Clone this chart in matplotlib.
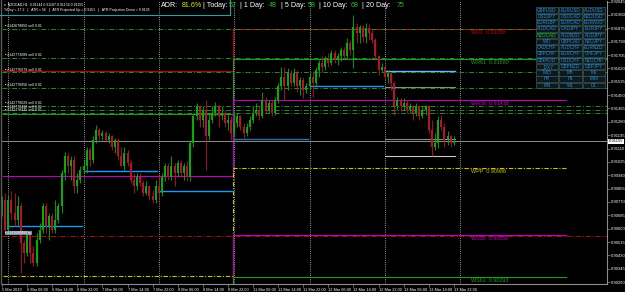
import matplotlib
matplotlib.use("Agg")
import matplotlib.pyplot as plt
import matplotlib.transforms as mtrans
from matplotlib.patches import Rectangle
from matplotlib.lines import Line2D
import pandas as pd

plt.rcParams['font.family'] = ['Liberation Sans', 'DejaVu Sans']

# ---------------- data ----------------
symbol = "NZDCAD,H1"
first_open = 0.90742
closes = [
    0.90784, 0.90593, 0.90784, 0.90699, 0.90657, 0.90742, 0.90508, 0.90445, 0.90572, 0.90445, 0.90381, 0.90530, 0.90593,
    0.90742, 0.90614, 0.90678, 0.90593, 0.90657, 0.90742, 0.90954, 0.91060, 0.90996, 0.91038, 0.90869, 0.90911, 0.90975,
    0.90996, 0.91102, 0.91038, 0.91166, 0.91229, 0.91187, 0.91208, 0.91166, 0.91187, 0.91123, 0.91166, 0.91060,
    0.90996, 0.91081, 0.91017, 0.90911, 0.90869, 0.90932, 0.90890, 0.90826, 0.90869, 0.90805, 0.90784, 0.90869,
    0.90826, 0.90932, 0.90996, 0.90932, 0.90996, 0.90954, 0.91017, 0.90954, 0.90996, 0.90932, 0.91144, 0.91314,
    0.91378, 0.91293, 0.91356, 0.91187, 0.91293, 0.91335, 0.91378, 0.91314, 0.91335, 0.91272, 0.91293, 0.91208,
    0.91272, 0.91314, 0.91250, 0.91208, 0.91250, 0.91293, 0.91335, 0.91356, 0.91314, 0.91420, 0.91356, 0.91399,
    0.91335, 0.91420, 0.91505, 0.91568, 0.91505, 0.91590, 0.91526, 0.91590, 0.91505, 0.91547, 0.91484, 0.91505,
    0.91568, 0.91526, 0.91611, 0.91653, 0.91632, 0.91674, 0.91653, 0.91717, 0.91674, 0.91696, 0.91738, 0.91696,
    0.91780, 0.91738, 0.91886, 0.91844, 0.91886, 0.91823, 0.91876, 0.91844, 0.91802, 0.91696, 0.91611, 0.91632,
    0.91568, 0.91590, 0.91526, 0.91378, 0.91420, 0.91378, 0.91399, 0.91356, 0.91378, 0.91335, 0.91378, 0.91314,
    0.91356, 0.91378, 0.91229, 0.91123, 0.91144, 0.91293, 0.91250, 0.91166, 0.91187, 0.91144, 0.91155,
]
highs = [
    0.90805, 0.90826, 0.90816, 0.90837, 0.90826, 0.90805, 0.90763, 0.90530, 0.90593, 0.90593, 0.90487, 0.90572, 0.90636,
    0.90763, 0.90763, 0.90699, 0.90699, 0.90784, 0.90763, 0.90975, 0.91091, 0.91081, 0.91060, 0.91060, 0.90954, 0.90996,
    0.91038, 0.91123, 0.91123, 0.91187, 0.91261, 0.91240, 0.91229, 0.91219, 0.91208, 0.91197, 0.91176, 0.91176,
    0.91123, 0.91123, 0.91102, 0.91038, 0.90954, 0.90954, 0.90954, 0.90911, 0.90901, 0.90880, 0.90848, 0.90911,
    0.90954, 0.90954, 0.91017, 0.91017, 0.91060, 0.91017, 0.91038, 0.91038, 0.91017, 0.91028, 0.91166, 0.91335,
    0.91399, 0.91388, 0.91378, 0.91420, 0.91335, 0.91378, 0.91409, 0.91388, 0.91378, 0.91356, 0.91335, 0.91314,
    0.91335, 0.91335, 0.91325, 0.91272, 0.91272, 0.91314, 0.91378, 0.91399, 0.91378, 0.91473, 0.91441, 0.91420,
    0.91420, 0.91441, 0.91526, 0.91632, 0.91632, 0.91621, 0.91611, 0.91621, 0.91611, 0.91568, 0.91568, 0.91526,
    0.91590, 0.91600, 0.91632, 0.91674, 0.91696, 0.91696, 0.91717, 0.91738, 0.91738, 0.91717, 0.91759, 0.91759,
    0.91812, 0.91802, 0.91961, 0.91908, 0.91897, 0.91897, 0.91908, 0.91903, 0.91865, 0.91812, 0.91706, 0.91653,
    0.91643, 0.91611, 0.91600, 0.91537, 0.91441, 0.91431, 0.91431, 0.91420, 0.91399, 0.91388, 0.91399, 0.91388,
    0.91378, 0.91388, 0.91388, 0.91293, 0.91208, 0.91314, 0.91325, 0.91272, 0.91219, 0.91197, 0.91187,
]
lows = [
    0.90678, 0.90572, 0.90572, 0.90657, 0.90614, 0.90614, 0.90318, 0.90381, 0.90424, 0.90381, 0.90360, 0.90360, 0.90508,
    0.90572, 0.90572, 0.90530, 0.90572, 0.90572, 0.90636, 0.90699, 0.90911, 0.90954, 0.90911, 0.90826, 0.90826, 0.90890,
    0.90954, 0.90954, 0.90996, 0.91017, 0.91144, 0.91166, 0.91166, 0.91155, 0.91144, 0.91102, 0.91081, 0.91038,
    0.90996, 0.90975, 0.90996, 0.90890, 0.90826, 0.90848, 0.90869, 0.90805, 0.90816, 0.90784, 0.90763, 0.90763,
    0.90784, 0.90805, 0.90901, 0.90911, 0.90911, 0.90869, 0.90932, 0.90932, 0.90911, 0.90901, 0.90901, 0.91123,
    0.91293, 0.91250, 0.91250, 0.90975, 0.91166, 0.91272, 0.91314, 0.91250, 0.91293, 0.91250, 0.91229, 0.91166,
    0.91187, 0.91250, 0.91229, 0.91176, 0.91187, 0.91229, 0.91272, 0.91314, 0.91293, 0.91303, 0.91335, 0.91335,
    0.91314, 0.91325, 0.91399, 0.91484, 0.91420, 0.91484, 0.91505, 0.91505, 0.91473, 0.91452, 0.91431, 0.91462,
    0.91484, 0.91441, 0.91505, 0.91568, 0.91600, 0.91611, 0.91632, 0.91643, 0.91653, 0.91643, 0.91664, 0.91674,
    0.91685, 0.91706, 0.91621, 0.91780, 0.91780, 0.91791, 0.91780, 0.91802, 0.91780, 0.91674, 0.91579, 0.91600,
    0.91547, 0.91526, 0.91484, 0.91325, 0.91356, 0.91346, 0.91356, 0.91335, 0.91335, 0.91293, 0.91314, 0.91293,
    0.91303, 0.91325, 0.91208, 0.91060, 0.91102, 0.91113, 0.91229, 0.91123, 0.91134, 0.91123, 0.91134,
]

times = list(pd.date_range("2019-03-05 22:00", "2019-03-08 23:00", freq="h")) + \
        list(pd.date_range("2019-03-11 00:00", "2019-03-13 22:00", freq="h"))

price_ticks = [0.92045, 0.91960, 0.91875, 0.91790, 0.91705, 0.91620, 0.91535, 0.91450, 0.91365, 0.91280, 0.91195,
               0.91110, 0.91025, 0.90940, 0.90855, 0.90770, 0.90685, 0.90600, 0.90515, 0.90430, 0.90345, 0.90260]

pivot_names = ["WR1", "WR61", "WR38", "WPP", "WS38", "WS61"]
pivot_this = [0.91868, 0.91680, 0.91418, 0.90986, 0.90558, 0.90293]
pivot_prev = [0.91606, 0.91330, 0.90935, 0.90299, 0.90150, 0.90050]
pivot_colors = ['#c00000', '#1f9c1f', '#c000c0', '#c8c800', '#c000c0', '#1f9c1f']
pivot_styles = ['-', '-', '-', (0, (4, 1.5, 1, 1.5)), '-', '-']
pivot_full = [True, True, False, False, False, False]

order_ids = ["#142678850", "#142773089", "#142776079", "#142776856", "#142778029", "#142778418", "#142778435"]
order_prices = [0.91869, 0.91685, 0.91595, 0.91494, 0.91381, 0.91355, 0.91338]
tp_label = "#142688889 tp"
tp_price = 0.90555

day_dates = ["2019-03-06", "2019-03-07", "2019-03-08", "2019-03-11", "2019-03-12", "2019-03-13"]
day_line_prices = [0.90615, 0.90965, 0.90838, 0.91173, 0.91506, 0.91606]
day_line_colors = ['#2196f3', '#2196f3', '#2196f3', '#2a6fb0', '#2196f3', '#6ab8ff']
extra_today_prices = [0.91500, 0.91173, 0.91061]
extra_today_colors = ['#8a8a8a', '#8a8a8a', '#c8c8c8']

adr_parts = [("ADR:", '#ffffff'), ("81.6%", '#e6e600'), ("| Today:", '#ffffff'), ("57", '#22c022'),
             ("| 1 Day:", '#ffffff'), ("48", '#22c022'), ("| 5 Day:", '#ffffff'), ("58", '#22c022'),
             ("| 10 Day:", '#ffffff'), ("68", '#22c022'), ("|", '#ffffff'), ("20 Day:", '#ffffff'), ("75", '#22c022')]
adr_x_px = [161, 182, 203, 229, 240, 269, 281, 308, 319, 351, 361, 366, 397]

info_line = "TrDay = 17.2   |   ATR = 56   |   ATR Projected Up = 0.9161   |   ATR Projection Down = 0.9105"

table_labels = [
    ["GBPUSD", "EURUSD", "AUDUSD"],
    ["USDJPY", "USDCAD", "NZDUSD"],
    ["EURGBP", "EURCAD", "EURAUD"],
    ["AUDCAD", "CADJPY", "EURJPY"],
    ["NZDCAD", "AUDNZD", "AUDJPY"],
    ["WTI", "GBPCAD", "NZDJPY"],
    ["CADCHF", "AUDCHF", "EURNZD"],
    ["GBPCHF", "EURCHF", "CHFJPY"],
    ["GBPAUD", "USDCHF", "NZDCHF"],
    ["_DXY", "GBPNZD", "GBPJPY"],
    ["M15", "M5", "M1"],
    ["H4", "H1", "M30"],
    ["MN", "W1", "D1"],
]

# ---------------- figure ----------------
W, H = 625, 292
fig = plt.figure(figsize=(W / 100, H / 100), dpi=100, facecolor='black')
L, R, T, B = 2, 607, 1, 284
ax = fig.add_axes([L / W, 1 - B / H, (R - L) / W, (B - T) / H], facecolor='black')


def fxy(px, py):
    return px / W, 1 - py / H


n = len(closes)
opens = [first_open] + closes[:-1]
bull, bear = '#00b400', '#c0102a'
for i in range(n):
    o, c, h, l = opens[i], closes[i], highs[i], lows[i]
    col = bull if c >= o else bear
    ax.vlines(i, l, h, color=col, lw=0.6, zorder=5)
    ax.vlines(i, min(o, c), max(o, c) + 1e-6, color=col, lw=1.4, zorder=5)

xmin, xmax = 0.16, 192.8
ax.set_xlim(xmin, xmax)
ax.set_ylim(0.90248, 0.92049)

# day separators
sep_idx = [i for i, t in enumerate(times) if t.hour == 0]
for i in sep_idx:
    ax.axvline(i, color='#c8c8c8', lw=0.6, ls=(0, (1, 1.6)), zorder=2)
ax.axvline(n + 1, color='#c8c8c8', lw=0.6, ls=(0, (1, 1.6)), zorder=2)

# week boundary
wk = next(i for i, t in enumerate(times) if t.day == 11) - 0.5
pend = 179.8
lab_off = mtrans.offset_copy(ax.transData, fig=fig, x=0, y=-3.5, units='dots')
for name, pv, pp, col, st, full in zip(pivot_names, pivot_this, pivot_prev, pivot_colors, pivot_styles, pivot_full):
    xe = xmax if full else pend
    ax.plot([xmin, wk, wk, xe], [pp, pp, pv, pv], color=col, lw=0.8, ls=st, zorder=3)
    ax.text(149.5, pv, f"{name}  {pv:.5f}", color=col, fontsize=3.9, va='center', ha='left',
            transform=lab_off, zorder=6)

# order levels
for oid, op in zip(order_ids, order_prices):
    ax.axhline(op, color='#2a8a2a', lw=0.7, ls=(0, (5, 2, 1, 2)), zorder=3)
    ax.text(1.0, op + 0.00005, "\u25aa " + oid + " sell 0.01", color='#ffffff', fontsize=2.6,
            va='bottom', ha='left', zorder=6)
ax.axhline(tp_price, color='#b01010', lw=0.7, ls=(0, (5, 2, 1, 2)), zorder=2.5)
ax.text(1.0, tp_price + 0.00005, "\u25aa " + tp_label, color='#ffffff', fontsize=2.6, va='bottom', ha='left',
        zorder=6, bbox=dict(boxstyle='square,pad=0.1', fc='#7a8aa0', ec='none'))

# day range lines
day_idx = {}
for i, t in enumerate(times):
    key = t.strftime("%Y-%m-%d")
    day_idx.setdefault(key, []).append(i)
for d, p, c in zip(day_dates, day_line_prices, day_line_colors):
    idx = day_idx[d]
    ax.plot([idx[0], idx[-1] + 0.5], [p, p], color=c, lw=1.0, zorder=4)
idx_today = day_idx[day_dates[-1]]
for p, c in zip(extra_today_prices, extra_today_colors):
    ax.plot([idx_today[0], idx_today[-1] + 0.5], [p, p], color=c, lw=0.8, zorder=4)

# current price
last = closes[-1]
ax.axhline(last, color='#8c8c8c', lw=0.7, zorder=4)
ax.text(1.003, last, f"{last:.5f}", transform=mtrans.blended_transform_factory(ax.transAxes, ax.transData),
        fontsize=3.0, color='black', va='center', ha='left', clip_on=False, zorder=10,
        bbox=dict(boxstyle='square,pad=0.15', fc='white', ec='none'))

# axes styling
for s in ['left', 'top']:
    ax.spines[s].set_visible(False)
for s in ['right', 'bottom']:
    ax.spines[s].set_color('#8c8c8c')
    ax.spines[s].set_linewidth(0.8)
ax.yaxis.tick_right()
ax.set_yticks(price_ticks)
ax.set_yticklabels([f"{p:.5f}" for p in price_ticks])
ax.tick_params(axis='y', colors='#8c8c8c', labelcolor='white', labelsize=3.0, length=2, width=0.5, pad=1)
xt = list(range(0, n, 8))
xl = ["5 Mar 2019" if i == 0 else f"{times[i].day} Mar {times[i]:%H:%M}" for i in xt]
ax.set_xticks(xt)
ax.set_xticklabels(xl, ha='left')
ax.tick_params(axis='x', colors='#8c8c8c', labelcolor='white', labelsize=2.8, length=2, width=0.5, pad=1)

# left border
fig.add_artist(Line2D([1 / W, 1 / W], [1 - B / H, 1], color='#5a5a5a', lw=1.0))

# header box
x0, y0 = fxy(0, 15)
x1, y1 = fxy(230, 0)
fig.add_artist(Line2D([x0, x1], [y0, y0], color='#2aa0a0', lw=0.8))
fig.add_artist(Line2D([x1, x1], [y0, y1], color='#2aa0a0', lw=0.8))
o, h, l, c = opens[-1], highs[-1], lows[-1], closes[-1]
fig.text(*fxy(4, 4.5), f"\u25be  {symbol}  {o:.5f} {h:.5f} {l:.5f} {c:.5f}", color='white', fontsize=2.5,
         va='center', ha='left')
fig.text(*fxy(4, 10), info_line, color='white', fontsize=2.5, va='center', ha='left')

for (txt, col), xp in zip(adr_parts, adr_x_px):
    fig.text(*fxy(xp, 5.5), txt, color=col, fontsize=5.1, va='center', ha='left')

# symbol table
cw, ch = 22.5, 6.26
cx0, cy0 = 535.5, 7.3
for r, row in enumerate(table_labels):
    for cidx, lab in enumerate(row):
        px = cx0 + cidx * (cw + 1)
        py = cy0 + r * ch
        xa, ya = fxy(px, py + ch - 0.6)
        fig.add_artist(Rectangle((xa, ya), cw / W, (ch - 0.8) / H, transform=fig.transFigure,
                                 fc='#0c1a1e', ec='#3c5a5c', lw=0.5, zorder=20))
        tc = '#22c022' if lab == "NZDCAD" else '#2f86d8'
        fig.text(*fxy(px + cw / 2, py + ch / 2 - 0.3), lab, color=tc, fontsize=3.3, ha='center', va='center',
                 zorder=21)

fig.savefig("out.png", dpi=100, facecolor='black')
